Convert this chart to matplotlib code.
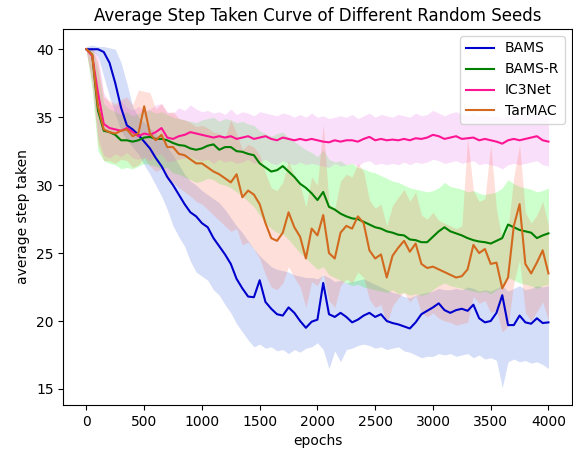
import numpy as np
import matplotlib
matplotlib.use("Agg")
import matplotlib.pyplot as plt

# epochs sampled every 50
epochs = np.arange(0, 4001, 50)

bams = [40.0, 40.0, 40.0, 39.8, 39.0, 37.5, 35.7, 34.4, 34.1, 33.7,
        33.2, 32.7, 32.0, 31.4, 30.6, 30.0, 29.3, 28.6, 28.0, 27.7,
        27.2, 26.9, 26.1, 25.5, 24.9, 24.2, 23.1, 22.4, 21.8, 21.75,
        23.0, 21.4, 20.9, 20.5, 20.4, 21.0, 20.6, 20.0, 19.5, 19.95,
        20.1, 22.8, 20.5, 20.3, 20.6, 20.3, 19.9, 20.1, 20.4, 20.6,
        20.3, 20.5, 20.0, 19.85, 19.75, 19.6, 19.45, 19.9, 20.5, 20.75,
        21.0, 21.3, 20.8, 20.6, 20.8, 20.9, 20.75, 21.2, 20.2, 19.9,
        20.0, 20.6, 21.9, 19.7, 19.7, 20.4, 19.9, 19.8, 20.2, 19.85,
        19.9]
bams_lo = [39.9, 39.9, 39.5, 38.0, 36.5, 35.2, 34.0, 33.3, 32.8, 32.3,
           31.5, 30.8, 30.0, 29.2, 28.2, 27.0, 26.2, 25.5, 24.4, 23.6,
           23.3, 23.0, 22.3, 21.9, 21.2, 20.6, 19.8, 19.2, 18.6, 18.1,
           18.3, 18.0, 18.1, 17.8, 17.9, 17.6, 17.9, 17.7, 18.0, 18.1,
           18.4, 17.9, 16.5, 17.8, 17.0, 17.9, 18.0, 18.2, 18.3, 18.2,
           18.0, 18.1, 17.9, 18.0, 18.1, 17.8, 17.7, 17.5, 17.3, 17.4,
           17.4, 17.6, 17.5, 17.6, 17.4, 17.5, 17.6, 17.3, 17.5, 17.2,
           17.3, 17.1, 15.1, 17.0, 17.2, 17.0, 17.1, 16.9, 17.0, 16.8,
           16.5]
bams_hi = [40.2, 40.3, 40.2, 40.2, 40.1, 40.0, 39.0, 37.5, 35.8, 35.0,
           34.6, 34.2, 33.8, 33.3, 32.8, 32.2, 31.5, 30.8, 30.3, 30.0,
           29.6, 29.3, 29.0, 28.7, 28.2, 27.6, 27.0, 26.5, 25.9, 25.3,
           24.8, 24.4, 24.0, 23.8, 23.7, 23.6, 23.4, 23.3, 23.2, 23.2,
           23.1, 23.4, 23.2, 22.9, 23.0, 22.8, 22.9, 23.0, 23.1, 22.9,
           22.7, 22.5, 22.3, 22.1, 22.0, 21.8, 21.7, 21.9, 22.0, 22.1,
           22.2, 22.4, 22.3, 22.3, 22.4, 22.3, 22.5, 22.4, 22.2, 22.3,
           22.2, 22.4, 22.6, 22.2, 22.4, 22.6, 22.3, 22.4, 22.6, 22.5,
           22.6]

bams_r = [40.0, 39.6, 35.5, 34.0, 33.9, 33.7, 33.3, 33.3, 33.2, 33.3,
          33.5, 33.55, 33.4, 33.4, 33.3, 33.1, 32.95, 32.9, 32.7, 32.6,
          32.7, 32.9, 33.0, 32.6, 32.8, 32.8, 32.5, 32.45, 32.3, 32.2,
          31.6, 31.3, 31.0, 31.1, 31.4, 31.0, 30.6, 30.1, 29.8, 29.4,
          28.9, 29.5, 28.4, 28.2, 27.9, 27.7, 27.55, 27.5, 27.3, 27.1,
          26.9, 26.8, 26.6, 26.5, 26.35, 26.3, 26.0, 25.95, 25.8, 25.8,
          26.2, 26.6, 26.9, 26.6, 26.45, 26.3, 26.1, 25.95, 25.85, 25.8,
          25.7, 25.9, 26.1, 27.1, 26.9, 26.7, 26.6, 26.5, 26.1, 26.3,
          26.45]
bams_r_lo = [39.8, 37.0, 32.5, 31.8, 31.6, 31.5, 31.2, 31.3, 31.2, 31.4,
             31.6, 31.5, 31.4, 31.2, 31.3, 30.9, 30.8, 30.6, 30.4, 30.2,
             30.3, 30.5, 30.4, 30.1, 30.0, 29.8, 29.5, 29.2, 28.8, 28.4,
             27.8, 27.2, 26.8, 26.5, 26.4, 26.0, 25.5, 25.0, 24.6, 24.2,
             23.8, 24.0, 23.4, 23.2, 23.0, 22.8, 22.6, 22.7, 22.5, 22.4,
             22.3, 22.2, 22.1, 22.3, 22.0, 22.1, 21.9, 22.0, 21.9, 22.0,
             22.3, 22.6, 22.8, 22.6, 22.5, 22.4, 22.3, 22.2, 22.1, 22.2,
             22.0, 22.3, 22.5, 23.2, 23.0, 22.8, 22.7, 22.6, 22.4, 22.6,
             22.7]
bams_r_hi = [40.1, 40.1, 38.5, 36.0, 35.6, 35.4, 35.2, 35.4, 35.1, 35.3,
             35.4, 35.5, 35.3, 35.4, 35.2, 35.0, 34.9, 34.8, 34.7, 34.6,
             34.8, 34.9, 35.0, 34.7, 34.9, 34.8, 34.6, 34.7, 34.5, 34.4,
             34.0, 33.8, 33.6, 33.8, 33.9, 33.5, 33.2, 32.9, 32.6, 32.4,
             32.1, 32.6, 31.9, 31.7, 31.8, 31.5, 31.6, 31.3, 31.2, 31.0,
             30.9, 30.7, 30.5, 30.3, 30.2, 30.0, 29.8, 29.7, 29.6, 29.5,
             29.6, 29.8, 30.2, 29.9, 29.8, 29.7, 29.5, 29.6, 29.4, 29.3,
             29.4, 29.5, 29.8, 30.4, 30.1, 29.9, 29.8, 29.7, 29.5, 29.6,
             29.8]

ic3net = [40.0, 39.5, 36.8, 34.5, 34.2, 34.1, 34.0, 34.2, 33.9, 33.6,
          33.8, 33.7, 33.9, 34.2, 33.5, 33.4, 33.6, 33.7, 33.9, 33.8,
          33.7, 33.6, 33.5, 33.6, 33.5, 33.6, 33.4, 33.5, 33.6, 33.4,
          33.5, 33.6, 33.4, 33.3, 33.5, 33.4, 33.3, 33.4, 33.3, 33.4,
          33.3, 33.2, 33.15, 33.3, 33.2, 33.3, 33.3, 33.2, 33.4, 33.55,
          33.3, 33.4, 33.3, 33.35, 33.3, 33.4, 33.3, 33.45, 33.4, 33.5,
          33.7, 33.6, 33.4, 33.5, 33.6, 33.4, 33.45, 33.5, 33.3, 33.4,
          33.3, 33.2, 33.05, 33.3, 33.4, 33.3, 33.4, 33.5, 33.6, 33.3,
          33.2]
ic3net_lo = [39.8, 37.5, 33.5, 32.2, 32.0, 32.3, 32.1, 32.4, 32.0, 31.9,
             32.1, 31.8, 32.2, 32.3, 31.7, 31.8, 31.9, 32.0, 32.1, 31.9,
             31.8, 31.9, 31.6, 31.9, 31.7, 31.8, 31.6, 31.7, 31.9, 31.6,
             31.7, 31.9, 31.6, 31.5, 31.8, 31.6, 31.5, 31.7, 31.5, 31.6,
             31.5, 31.4, 31.3, 31.6, 31.4, 31.5, 31.6, 31.4, 31.7, 31.8,
             31.5, 31.6, 31.5, 31.6, 31.5, 31.7, 31.5, 31.7, 31.6, 31.7,
             31.9, 31.8, 31.6, 31.7, 31.8, 31.6, 31.7, 31.8, 31.5, 31.6,
             31.5, 31.4, 31.2, 31.5, 31.6, 31.5, 31.6, 31.7, 31.8, 31.5,
             31.4]
ic3net_hi = [40.1, 40.1, 39.5, 36.8, 36.0, 35.8, 36.2, 35.7, 35.5, 35.8,
             35.5, 35.6, 35.9, 36.0, 35.4, 35.3, 35.7, 35.5, 35.9, 35.6,
             35.4, 35.5, 35.3, 35.4, 35.2, 35.6, 35.2, 35.4, 35.3, 35.1,
             35.4, 35.3, 35.2, 35.1, 35.3, 35.2, 35.0, 35.2, 35.0, 35.3,
             35.0, 35.1, 34.9, 35.0, 35.1, 35.0, 35.2, 34.9, 35.1, 35.3,
             35.0, 35.2, 35.1, 35.0, 35.2, 35.1, 35.0, 35.3, 35.1, 35.2,
             35.5, 35.3, 35.1, 35.3, 35.4, 35.2, 35.1, 35.3, 35.1, 35.2,
             35.0, 35.1, 34.9, 35.1, 35.2, 35.0, 35.2, 35.3, 35.4, 35.0,
             35.0]

tarmac = [40.0, 39.6, 35.8, 34.1, 33.9, 33.8, 34.0, 34.1, 33.6, 33.8,
          35.8, 33.8, 33.3, 33.7, 32.8, 32.8, 32.3, 32.2, 31.9, 31.6,
          31.6, 31.3, 31.0, 30.8, 30.5, 30.2, 30.8, 29.1, 29.6, 29.3,
          28.6, 27.2, 26.1, 25.9, 26.5, 28.0, 26.9, 26.2, 24.6, 26.8,
          26.3, 27.8, 25.0, 24.6, 26.5, 27.0, 26.8, 27.7, 27.2, 25.2,
          24.6, 24.9, 23.2, 24.8, 25.4, 25.9, 25.1, 25.7, 24.2, 23.9,
          24.0, 23.8, 23.6, 23.4, 23.2, 23.3, 23.8, 25.6, 25.0, 25.3,
          24.2, 24.3, 22.4, 23.2, 27.0, 28.6, 24.2, 23.5, 24.3, 25.2,
          23.5]
tarmac_lo = [39.8, 37.5, 33.0, 31.8, 31.8, 31.6, 31.9, 31.8, 31.3, 31.5,
             32.0, 31.4, 31.0, 31.2, 30.4, 30.2, 29.8, 29.5, 29.2, 28.8,
             28.6, 28.2, 27.8, 27.4, 27.0, 26.6, 26.8, 25.6, 25.8, 25.3,
             24.6, 23.4, 22.5, 22.3, 22.8, 24.0, 23.2, 22.5, 21.0, 22.9,
             22.6, 23.5, 21.5, 21.0, 22.6, 23.1, 22.8, 23.6, 23.2, 21.6,
             21.0, 21.2, 19.8, 21.1, 21.7, 22.1, 21.4, 21.9, 20.6, 20.3,
             20.6, 20.2, 20.0, 19.9, 19.7, 19.8, 19.9, 21.8, 21.3, 21.5,
             20.6, 20.8, 19.2, 19.6, 22.8, 24.5, 20.6, 20.0, 20.7, 21.4,
             20.0]
tarmac_hi = [40.1, 40.1, 39.0, 36.5, 36.2, 36.0, 36.3, 36.5, 35.9, 37.0,
             36.9, 36.8, 35.6, 36.0, 35.3, 35.4, 34.9, 34.8, 34.6, 34.3,
             34.4, 34.2, 33.9, 33.8, 33.5, 34.8, 33.8, 32.6, 33.0, 32.8,
             32.2, 30.9, 29.8, 29.6, 30.2, 31.8, 30.6, 30.0, 28.4, 30.6,
             30.0, 34.5, 28.6, 28.3, 30.3, 30.8, 30.6, 31.6, 31.0, 28.9,
             28.3, 28.6, 27.0, 28.5, 29.1, 29.7, 28.8, 29.5, 27.8, 27.5,
             28.0, 27.4, 27.2, 27.0, 26.8, 27.0, 33.5, 29.6, 28.8, 29.0,
             33.0, 28.2, 26.0, 26.8, 30.6, 33.0, 28.0, 27.2, 27.8, 28.8,
             27.0]

names = ['BAMS', 'BAMS-R', 'IC3Net', 'TarMAC']
means = [bams, bams_r, ic3net, tarmac]
lows = [bams_lo, bams_r_lo, ic3net_lo, tarmac_lo]
highs = [bams_hi, bams_r_hi, ic3net_hi, tarmac_hi]
line_colors = ['#0000cd', 'green', '#ff1493', '#d2691e']
band_colors = ['royalblue', 'lime', 'violet', 'tomato']
band_alpha = [0.22, 0.2, 0.25, 0.2]

fig = plt.figure(figsize=(5.73, 4.53), dpi=100)
ax = fig.add_axes([0.1105, 0.106, 0.887, 0.830])

for lo, hi, c, a in zip(lows, highs, band_colors, band_alpha):
    ax.fill_between(epochs, lo, hi, color=c, alpha=a, linewidth=0)

for m, c, n in zip(means, line_colors, names):
    ax.plot(epochs, m, color=c, linewidth=1.5, label=n)

ax.set_xlim(-200, 4200)
ax.set_ylim(13.82, 41.49)
ax.set_xticks(np.arange(0, 4001, 500))
ax.set_yticks([15, 20, 25, 30, 35, 40])
ax.set_xlabel('epochs')
ax.set_ylabel('average step taken')
ax.set_title('Average Step Taken Curve of Different Random Seeds')
ax.legend(loc='upper right')

fig.savefig('out.png', dpi=100)
